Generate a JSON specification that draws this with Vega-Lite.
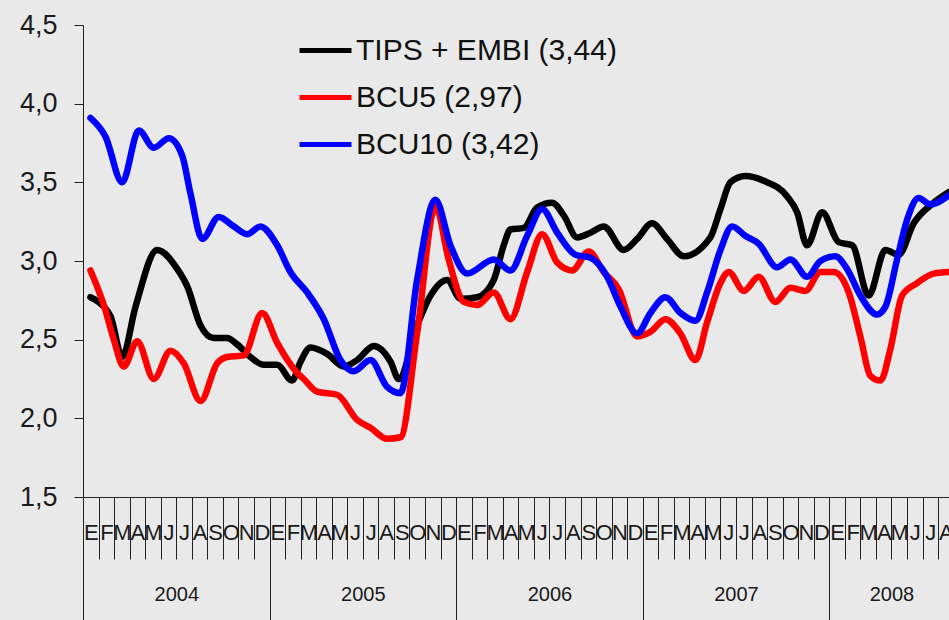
{
  "$schema": "https://vega.github.io/schema/vega-lite/v6.json",
  "width": 866,
  "height": 472,
  "autosize": {"type": "none"},
  "padding": {"left": 83, "top": 25, "right": 0, "bottom": 123},
  "background": "#e9e9e9",
  "config": {
    "view": {"stroke": null},
    "font": "Liberation Sans",
    "axis": {"domainColor": "#222", "tickColor": "#222", "labelColor": "#1a1a1a", "domainWidth": 1, "tickWidth": 1, "grid": false, "title": null}
  },
  "datasets": {
    "series": [
      {"s": "TIPS + EMBI (3,44)", "t": 0.48, "v": 2.77},
      {"s": "TIPS + EMBI (3,44)", "t": 1.34, "v": 2.71},
      {"s": "TIPS + EMBI (3,44)", "t": 1.77, "v": 2.65},
      {"s": "TIPS + EMBI (3,44)", "t": 2.52, "v": 2.39},
      {"s": "TIPS + EMBI (3,44)", "t": 3.38, "v": 2.71},
      {"s": "TIPS + EMBI (3,44)", "t": 4.77, "v": 3.07},
      {"s": "TIPS + EMBI (3,44)", "t": 6.06, "v": 2.95},
      {"s": "TIPS + EMBI (3,44)", "t": 6.7, "v": 2.84},
      {"s": "TIPS + EMBI (3,44)", "t": 7.56, "v": 2.59},
      {"s": "TIPS + EMBI (3,44)", "t": 8.41, "v": 2.51},
      {"s": "TIPS + EMBI (3,44)", "t": 9.27, "v": 2.51},
      {"s": "TIPS + EMBI (3,44)", "t": 9.92, "v": 2.47},
      {"s": "TIPS + EMBI (3,44)", "t": 10.77, "v": 2.39},
      {"s": "TIPS + EMBI (3,44)", "t": 11.63, "v": 2.34},
      {"s": "TIPS + EMBI (3,44)", "t": 12.49, "v": 2.34},
      {"s": "TIPS + EMBI (3,44)", "t": 13.45, "v": 2.24},
      {"s": "TIPS + EMBI (3,44)", "t": 13.99, "v": 2.36},
      {"s": "TIPS + EMBI (3,44)", "t": 14.63, "v": 2.45},
      {"s": "TIPS + EMBI (3,44)", "t": 15.7, "v": 2.41},
      {"s": "TIPS + EMBI (3,44)", "t": 16.77, "v": 2.33},
      {"s": "TIPS + EMBI (3,44)", "t": 17.63, "v": 2.37},
      {"s": "TIPS + EMBI (3,44)", "t": 18.7, "v": 2.46},
      {"s": "TIPS + EMBI (3,44)", "t": 19.78, "v": 2.36},
      {"s": "TIPS + EMBI (3,44)", "t": 20.31, "v": 2.25},
      {"s": "TIPS + EMBI (3,44)", "t": 21.49, "v": 2.59},
      {"s": "TIPS + EMBI (3,44)", "t": 22.35, "v": 2.78},
      {"s": "TIPS + EMBI (3,44)", "t": 23.42, "v": 2.88},
      {"s": "TIPS + EMBI (3,44)", "t": 24.28, "v": 2.76},
      {"s": "TIPS + EMBI (3,44)", "t": 25.35, "v": 2.77},
      {"s": "TIPS + EMBI (3,44)", "t": 26.42, "v": 2.88},
      {"s": "TIPS + EMBI (3,44)", "t": 27.06, "v": 3.1},
      {"s": "TIPS + EMBI (3,44)", "t": 27.49, "v": 3.2},
      {"s": "TIPS + EMBI (3,44)", "t": 28.35, "v": 3.21},
      {"s": "TIPS + EMBI (3,44)", "t": 29.21, "v": 3.34},
      {"s": "TIPS + EMBI (3,44)", "t": 30.17, "v": 3.37},
      {"s": "TIPS + EMBI (3,44)", "t": 30.92, "v": 3.29},
      {"s": "TIPS + EMBI (3,44)", "t": 31.78, "v": 3.15},
      {"s": "TIPS + EMBI (3,44)", "t": 32.64, "v": 3.18},
      {"s": "TIPS + EMBI (3,44)", "t": 33.49, "v": 3.22},
      {"s": "TIPS + EMBI (3,44)", "t": 34.78, "v": 3.07},
      {"s": "TIPS + EMBI (3,44)", "t": 35.64, "v": 3.14},
      {"s": "TIPS + EMBI (3,44)", "t": 36.6, "v": 3.24},
      {"s": "TIPS + EMBI (3,44)", "t": 37.57, "v": 3.14},
      {"s": "TIPS + EMBI (3,44)", "t": 38.64, "v": 3.03},
      {"s": "TIPS + EMBI (3,44)", "t": 40.35, "v": 3.15},
      {"s": "TIPS + EMBI (3,44)", "t": 41.0, "v": 3.33},
      {"s": "TIPS + EMBI (3,44)", "t": 41.64, "v": 3.5},
      {"s": "TIPS + EMBI (3,44)", "t": 42.6, "v": 3.54},
      {"s": "TIPS + EMBI (3,44)", "t": 43.78, "v": 3.51},
      {"s": "TIPS + EMBI (3,44)", "t": 45.29, "v": 3.41},
      {"s": "TIPS + EMBI (3,44)", "t": 45.93, "v": 3.31},
      {"s": "TIPS + EMBI (3,44)", "t": 46.57, "v": 3.1},
      {"s": "TIPS + EMBI (3,44)", "t": 47.54, "v": 3.31},
      {"s": "TIPS + EMBI (3,44)", "t": 48.6, "v": 3.12},
      {"s": "TIPS + EMBI (3,44)", "t": 49.47, "v": 3.1},
      {"s": "TIPS + EMBI (3,44)", "t": 50.53, "v": 2.78},
      {"s": "TIPS + EMBI (3,44)", "t": 51.61, "v": 3.07},
      {"s": "TIPS + EMBI (3,44)", "t": 52.46, "v": 3.04},
      {"s": "TIPS + EMBI (3,44)", "t": 53.43, "v": 3.24},
      {"s": "TIPS + EMBI (3,44)", "t": 54.71, "v": 3.37},
      {"s": "TIPS + EMBI (3,44)", "t": 55.72, "v": 3.44},
      {"s": "BCU5 (2,97)", "t": 0.48, "v": 2.94},
      {"s": "BCU5 (2,97)", "t": 1.34, "v": 2.72},
      {"s": "BCU5 (2,97)", "t": 1.98, "v": 2.5},
      {"s": "BCU5 (2,97)", "t": 2.62, "v": 2.33},
      {"s": "BCU5 (2,97)", "t": 3.49, "v": 2.49},
      {"s": "BCU5 (2,97)", "t": 4.55, "v": 2.25},
      {"s": "BCU5 (2,97)", "t": 5.63, "v": 2.43},
      {"s": "BCU5 (2,97)", "t": 6.48, "v": 2.35},
      {"s": "BCU5 (2,97)", "t": 7.56, "v": 2.11},
      {"s": "BCU5 (2,97)", "t": 8.63, "v": 2.35},
      {"s": "BCU5 (2,97)", "t": 9.27, "v": 2.39},
      {"s": "BCU5 (2,97)", "t": 10.34, "v": 2.4},
      {"s": "BCU5 (2,97)", "t": 11.52, "v": 2.67},
      {"s": "BCU5 (2,97)", "t": 12.49, "v": 2.48},
      {"s": "BCU5 (2,97)", "t": 13.77, "v": 2.29},
      {"s": "BCU5 (2,97)", "t": 14.2, "v": 2.25},
      {"s": "BCU5 (2,97)", "t": 15.06, "v": 2.17},
      {"s": "BCU5 (2,97)", "t": 16.35, "v": 2.15},
      {"s": "BCU5 (2,97)", "t": 17.63, "v": 1.99},
      {"s": "BCU5 (2,97)", "t": 18.49, "v": 1.94},
      {"s": "BCU5 (2,97)", "t": 19.56, "v": 1.87},
      {"s": "BCU5 (2,97)", "t": 20.42, "v": 1.88},
      {"s": "BCU5 (2,97)", "t": 21.49, "v": 2.54},
      {"s": "BCU5 (2,97)", "t": 22.67, "v": 3.35},
      {"s": "BCU5 (2,97)", "t": 23.52, "v": 3.01},
      {"s": "BCU5 (2,97)", "t": 24.49, "v": 2.74},
      {"s": "BCU5 (2,97)", "t": 25.35, "v": 2.72},
      {"s": "BCU5 (2,97)", "t": 26.42, "v": 2.8},
      {"s": "BCU5 (2,97)", "t": 27.49, "v": 2.63},
      {"s": "BCU5 (2,97)", "t": 28.57, "v": 2.93},
      {"s": "BCU5 (2,97)", "t": 29.53, "v": 3.17},
      {"s": "BCU5 (2,97)", "t": 30.5, "v": 2.99},
      {"s": "BCU5 (2,97)", "t": 31.46, "v": 2.94},
      {"s": "BCU5 (2,97)", "t": 32.53, "v": 3.06},
      {"s": "BCU5 (2,97)", "t": 33.49, "v": 2.93},
      {"s": "BCU5 (2,97)", "t": 34.46, "v": 2.82},
      {"s": "BCU5 (2,97)", "t": 35.64, "v": 2.52},
      {"s": "BCU5 (2,97)", "t": 36.5, "v": 2.55},
      {"s": "BCU5 (2,97)", "t": 37.46, "v": 2.63},
      {"s": "BCU5 (2,97)", "t": 38.42, "v": 2.54},
      {"s": "BCU5 (2,97)", "t": 39.39, "v": 2.37},
      {"s": "BCU5 (2,97)", "t": 40.14, "v": 2.61},
      {"s": "BCU5 (2,97)", "t": 41.0, "v": 2.86},
      {"s": "BCU5 (2,97)", "t": 41.53, "v": 2.93},
      {"s": "BCU5 (2,97)", "t": 42.5, "v": 2.81},
      {"s": "BCU5 (2,97)", "t": 43.46, "v": 2.9},
      {"s": "BCU5 (2,97)", "t": 44.53, "v": 2.74},
      {"s": "BCU5 (2,97)", "t": 45.5, "v": 2.83},
      {"s": "BCU5 (2,97)", "t": 46.46, "v": 2.81},
      {"s": "BCU5 (2,97)", "t": 47.43, "v": 2.93},
      {"s": "BCU5 (2,97)", "t": 48.28, "v": 2.93},
      {"s": "BCU5 (2,97)", "t": 49.25, "v": 2.8},
      {"s": "BCU5 (2,97)", "t": 50.0, "v": 2.52},
      {"s": "BCU5 (2,97)", "t": 50.64, "v": 2.27},
      {"s": "BCU5 (2,97)", "t": 51.29, "v": 2.24},
      {"s": "BCU5 (2,97)", "t": 51.93, "v": 2.44},
      {"s": "BCU5 (2,97)", "t": 52.68, "v": 2.78},
      {"s": "BCU5 (2,97)", "t": 53.65, "v": 2.86},
      {"s": "BCU5 (2,97)", "t": 54.71, "v": 2.92},
      {"s": "BCU5 (2,97)", "t": 55.72, "v": 2.93},
      {"s": "BCU10 (3,42)", "t": 0.48, "v": 3.91},
      {"s": "BCU10 (3,42)", "t": 1.45, "v": 3.79},
      {"s": "BCU10 (3,42)", "t": 2.52, "v": 3.5},
      {"s": "BCU10 (3,42)", "t": 3.59, "v": 3.83},
      {"s": "BCU10 (3,42)", "t": 4.55, "v": 3.72},
      {"s": "BCU10 (3,42)", "t": 5.52, "v": 3.78},
      {"s": "BCU10 (3,42)", "t": 6.38, "v": 3.67},
      {"s": "BCU10 (3,42)", "t": 6.91, "v": 3.43},
      {"s": "BCU10 (3,42)", "t": 7.67, "v": 3.14},
      {"s": "BCU10 (3,42)", "t": 8.73, "v": 3.28},
      {"s": "BCU10 (3,42)", "t": 9.7, "v": 3.22},
      {"s": "BCU10 (3,42)", "t": 10.56, "v": 3.17},
      {"s": "BCU10 (3,42)", "t": 11.41, "v": 3.22},
      {"s": "BCU10 (3,42)", "t": 12.49, "v": 3.1},
      {"s": "BCU10 (3,42)", "t": 13.34, "v": 2.93},
      {"s": "BCU10 (3,42)", "t": 14.42, "v": 2.8},
      {"s": "BCU10 (3,42)", "t": 15.49, "v": 2.63},
      {"s": "BCU10 (3,42)", "t": 16.56, "v": 2.37},
      {"s": "BCU10 (3,42)", "t": 17.41, "v": 2.3},
      {"s": "BCU10 (3,42)", "t": 18.49, "v": 2.37},
      {"s": "BCU10 (3,42)", "t": 19.56, "v": 2.2},
      {"s": "BCU10 (3,42)", "t": 20.42, "v": 2.16},
      {"s": "BCU10 (3,42)", "t": 21.49, "v": 2.88},
      {"s": "BCU10 (3,42)", "t": 22.67, "v": 3.39},
      {"s": "BCU10 (3,42)", "t": 23.63, "v": 3.1},
      {"s": "BCU10 (3,42)", "t": 24.71, "v": 2.92},
      {"s": "BCU10 (3,42)", "t": 26.42, "v": 3.01},
      {"s": "BCU10 (3,42)", "t": 27.49, "v": 2.94},
      {"s": "BCU10 (3,42)", "t": 28.57, "v": 3.16},
      {"s": "BCU10 (3,42)", "t": 29.53, "v": 3.33},
      {"s": "BCU10 (3,42)", "t": 30.5, "v": 3.18},
      {"s": "BCU10 (3,42)", "t": 31.67, "v": 3.04},
      {"s": "BCU10 (3,42)", "t": 32.64, "v": 3.02},
      {"s": "BCU10 (3,42)", "t": 33.71, "v": 2.9},
      {"s": "BCU10 (3,42)", "t": 34.57, "v": 2.71},
      {"s": "BCU10 (3,42)", "t": 35.64, "v": 2.54},
      {"s": "BCU10 (3,42)", "t": 36.5, "v": 2.67},
      {"s": "BCU10 (3,42)", "t": 37.46, "v": 2.77},
      {"s": "BCU10 (3,42)", "t": 38.42, "v": 2.67},
      {"s": "BCU10 (3,42)", "t": 39.39, "v": 2.62},
      {"s": "BCU10 (3,42)", "t": 40.14, "v": 2.8},
      {"s": "BCU10 (3,42)", "t": 41.0, "v": 3.07},
      {"s": "BCU10 (3,42)", "t": 41.75, "v": 3.22},
      {"s": "BCU10 (3,42)", "t": 42.6, "v": 3.16},
      {"s": "BCU10 (3,42)", "t": 43.46, "v": 3.11},
      {"s": "BCU10 (3,42)", "t": 44.64, "v": 2.96},
      {"s": "BCU10 (3,42)", "t": 45.5, "v": 3.01},
      {"s": "BCU10 (3,42)", "t": 46.57, "v": 2.9},
      {"s": "BCU10 (3,42)", "t": 47.43, "v": 3.0},
      {"s": "BCU10 (3,42)", "t": 48.39, "v": 3.03},
      {"s": "BCU10 (3,42)", "t": 49.14, "v": 2.95},
      {"s": "BCU10 (3,42)", "t": 50.0, "v": 2.78},
      {"s": "BCU10 (3,42)", "t": 51.07, "v": 2.66},
      {"s": "BCU10 (3,42)", "t": 51.61, "v": 2.71},
      {"s": "BCU10 (3,42)", "t": 52.36, "v": 3.01},
      {"s": "BCU10 (3,42)", "t": 53.0, "v": 3.26},
      {"s": "BCU10 (3,42)", "t": 53.75, "v": 3.4},
      {"s": "BCU10 (3,42)", "t": 54.5, "v": 3.36},
      {"s": "BCU10 (3,42)", "t": 55.72, "v": 3.42}
    ]
  },
  "data": {"name": "series"},
  "encoding": {
    "y": {
      "field": "v", "type": "quantitative",
      "scale": {"domain": [1.5, 4.5], "nice": false, "zero": false},
      "axis": {
        "values": [1.5, 2, 2.5, 3, 3.5, 4, 4.5],
        "labelExpr": "replace(format(datum.value, '.1f'), '.', ',')",
        "tickSize": 9, "labelPadding": 17, "labelFontSize": 27,
        "domain": true, "ticks": true
      }
    },
    "color": {
      "field": "s", "type": "nominal",
      "scale": {"domain": ["TIPS + EMBI (3,44)", "BCU5 (2,97)", "BCU10 (3,42)"], "range": ["#000000", "#ff0000", "#0000ff"]},
      "legend": {
        "orient": "none", "legendX": 214, "legendY": -3, "title": null, "padding": 0,
        "symbolType": "stroke", "symbolSize": 2700, "symbolStrokeWidth": 5,
        "labelFontSize": 30, "labelColor": "#111", "labelOffset": 2, "rowPadding": 3, "labelLimit": 600
      }
    }
  },
  "resolve": {"axis": {"x": "independent"}},
  "layer": [
    {
      "transform": [{"filter": "datum.s === 'TIPS + EMBI (3,44)'"}],
      "mark": {"type": "line", "interpolate": "monotone", "strokeWidth": 6.5, "strokeCap": "round", "strokeJoin": "round"},
      "encoding": {
        "x": {
          "field": "t", "type": "quantitative",
          "scale": {"domain": [0, 55.7], "nice": false, "zero": false},
          "axis": {
            "orient": "bottom",
            "values": [0,1,2,3,4,5,6,7,8,9,10,11,12,13,14,15,16,17,18,19,20,21,22,23,24,25,26,27,28,29,30,31,32,33,34,35,36,37,38,39,40,41,42,43,44,45,46,47,48,49,50,51,52,53,54,55],
            "labelExpr": "['E','F','M','A','M','J','J','A','S','O','N','D'][datum.value % 12]",
            "tickSize": 62, "labelOffset": 7.8, "labelPadding": -27, "labelBaseline": "middle", "labelAlign": "center",
            "labelFont": "Liberation Sans Narrow, Liberation Sans", "labelFontSize": 22,
            "labelOverlap": false, "labelFlush": false, "labelBound": false
          }
        }
      }
    },
    {
      "transform": [{"filter": "datum.s === 'BCU5 (2,97)'"}],
      "mark": {"type": "line", "interpolate": "monotone", "strokeWidth": 6.5, "strokeCap": "round", "strokeJoin": "round"},
      "encoding": {
        "x": {
          "field": "t", "type": "quantitative",
          "scale": {"domain": [0, 55.7], "nice": false, "zero": false},
          "axis": {
            "orient": "bottom", "domain": false,
            "values": [0, 6, 12, 18, 24, 30, 36, 42, 48, 52],
            "labelExpr": "datum.value % 12 == 0 ? '' : (datum.value == 52 ? '2008' : '' + (2004 + floor(datum.value / 12)))",
            "tickSize": 123, "tickOpacity": {"condition": {"test": "datum.value % 12 == 0", "value": 1}, "value": 0},
            "labelPadding": -26, "labelBaseline": "middle", "labelAlign": "center", "labelFontSize": 20,
            "labelOverlap": false, "labelFlush": false, "labelBound": false
          }
        }
      }
    },
    {
      "transform": [{"filter": "datum.s === 'BCU10 (3,42)'"}],
      "mark": {"type": "line", "interpolate": "monotone", "strokeWidth": 6.5, "strokeCap": "round", "strokeJoin": "round"},
      "encoding": {
        "x": {
          "field": "t", "type": "quantitative",
          "scale": {"domain": [0, 55.7], "nice": false, "zero": false},
          "axis": null
        }
      }
    }
  ]
}
